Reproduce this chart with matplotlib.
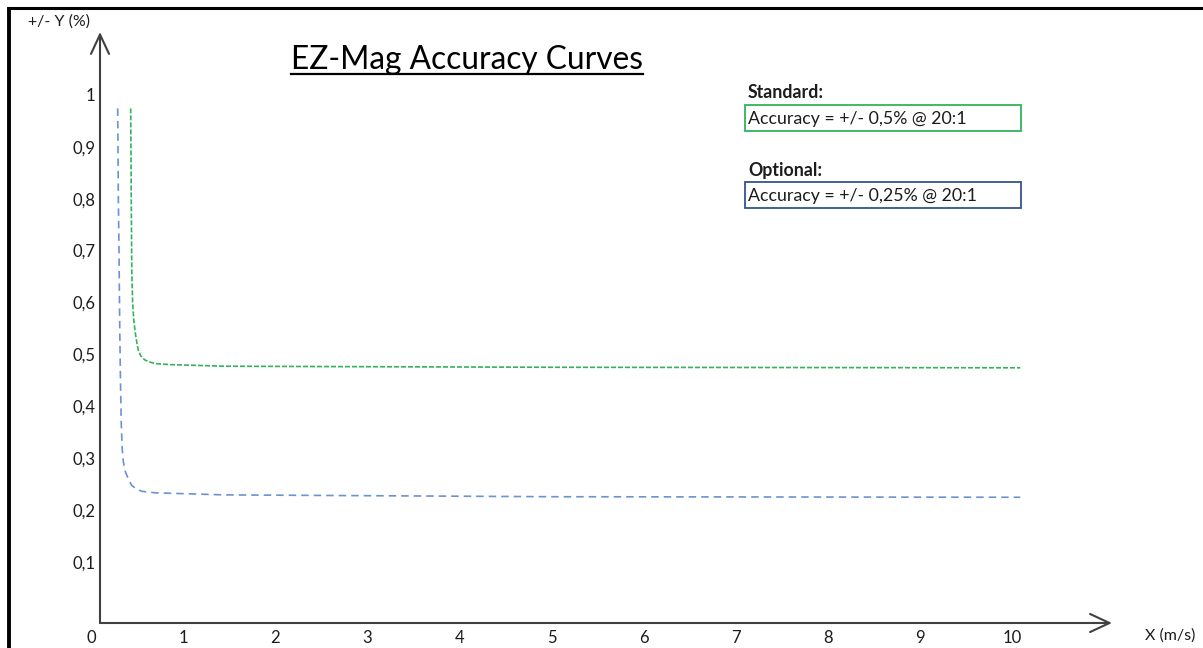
import matplotlib
matplotlib.use("Agg")
import matplotlib.pyplot as plt
from matplotlib.patches import Rectangle
from matplotlib.lines import Line2D

# ───────── data ─────────
std_x = [0.431, 0.437, 0.443, 0.452, 0.465, 0.480, 0.500, 0.514, 0.540, 0.586,
         0.640, 0.700, 0.876, 1.455, 4.98, 10.09]
std_y = [0.974, 0.800, 0.660, 0.600, 0.565, 0.542, 0.520, 0.508, 0.497, 0.489,
         0.485, 0.482, 0.480, 0.477, 0.475, 0.474]

opt_x = [0.290, 0.297, 0.304, 0.312, 0.320, 0.328, 0.338, 0.351, 0.370, 0.405,
         0.440, 0.478, 0.550, 0.695, 1.455, 4.98, 10.09]
opt_y = [0.974, 0.800, 0.700, 0.550, 0.450, 0.370, 0.320, 0.293, 0.275, 0.260,
         0.248, 0.242, 0.236, 0.233, 0.229, 0.2255, 0.2244]

x_ticks = [0, 1, 2, 3, 4, 5, 6, 7, 8, 9, 10]
y_ticks = [0.1, 0.2, 0.3, 0.4, 0.5, 0.6, 0.7, 0.8, 0.9, 1.0]
y_tick_labels = ["0,1", "0,2", "0,3", "0,4", "0,5", "0,6", "0,7", "0,8", "0,9", "1"]

title = "EZ-Mag Accuracy Curves"
std_head, std_text = "Standard:", "Accuracy = +/- 0,5% @ 20:1"
opt_head, opt_text = "Optional:", "Accuracy = +/- 0,25% @ 20:1"

# ───────── styling ─────────
W, H = 1203, 648
FONT = "Lato"
GREEN = "#33b35a"
BLUE = "#6a93d2"
NAVY = "#34548a"
AXIS = "#404040"
TXT = "#1c1c1c"

plt.rcParams["font.family"] = [FONT, "DejaVu Sans"]


def fx(x):
    return x / W


def fy(y):
    return 1 - y / H


fig = plt.figure(figsize=(W / 100, H / 100), dpi=100)
fig.patch.set_facecolor("white")

# axes: left edge at x=0 label, bottom at x-axis line
ax = fig.add_axes([fx(91), fy(623), fx(1112) - fx(91), fy(32) - fy(623)])
ax.set_xlim(0, (1112 - 91) / 92.1)
ax.set_ylim((613.7 - 623) / 518.8, (613.7 - 32) / 518.8)
for s in ax.spines.values():
    s.set_visible(False)
ax.set_facecolor("none")

ax.plot(std_x, std_y, color=GREEN, lw=1.2, linestyle=(0, (3, 1.2)))
ax.plot(opt_x, opt_y, color=BLUE, lw=1.2, linestyle=(0, (4.5, 3)))

ax.set_xticks(x_ticks)
ax.set_xticklabels([str(t) for t in x_ticks])
ax.set_yticks(y_ticks)
ax.set_yticklabels(y_tick_labels)
ax.tick_params(axis="both", length=0, labelsize=12, colors=TXT)
ax.tick_params(axis="x", pad=5)
ax.tick_params(axis="y", pad=-3)

# axis arrows (open heads)
x0 = (100 - 91) / 92.1
ybot, ytop = ax.get_ylim()
xl, xr = ax.get_xlim()
arrow = dict(arrowstyle="->, head_length=14, head_width=6.5", color=AXIS,
             lw=1.5, shrinkA=0, shrinkB=0, mutation_scale=1)
ax.annotate("", xy=(x0, ytop), xytext=(x0, ybot), arrowprops=arrow,
            annotation_clip=False)
ax.annotate("", xy=(xr, ybot), xytext=(x0, ybot), arrowprops=arrow,
            annotation_clip=False)

# axis names
fig.text(fx(28), fy(22), "+/- Y (%)", fontsize=11.5, color=TXT, va="center", ha="left")
fig.text(fx(1145), fy(636), "X (m/s)", fontsize=11.5, color=TXT, va="center", ha="left")

# title with underline
t = fig.text(fx(467), fy(69), title, fontsize=22.8, color="black",
             ha="center", va="baseline")
fig.canvas.draw()
bb = t.get_window_extent()
fig.add_artist(Line2D([bb.x0 / W, bb.x1 / W], [fy(74), fy(74)],
                      transform=fig.transFigure, color="black", lw=1.6))

# note boxes
fig.text(fx(748), fy(93), std_head, fontsize=12.8, fontweight="bold", color=TXT,
         va="center", ha="left")
fig.add_artist(Rectangle((fx(745), fy(131)), fx(1021) - fx(745), fy(105) - fy(131),
                         transform=fig.transFigure, fill=False, ec=GREEN, lw=1.3))
fig.text(fx(748), fy(119), std_text, fontsize=12.8, color=TXT, va="center", ha="left")

fig.text(fx(748), fy(170), opt_head, fontsize=12.8, fontweight="bold", color=TXT,
         va="center", ha="left")
fig.add_artist(Rectangle((fx(745), fy(208)), fx(1021) - fx(745), fy(182) - fy(208),
                         transform=fig.transFigure, fill=False, ec=NAVY, lw=1.3))
fig.text(fx(748), fy(196), opt_text, fontsize=12.8, color=TXT, va="center", ha="left")

# outer frame (left and top edges only)
fig.add_artist(Line2D([fx(8.5), fx(8.5)], [fy(7), fy(648)], transform=fig.transFigure,
                      color="black", lw=2.8, solid_capstyle="butt"))
fig.add_artist(Line2D([fx(7), fx(1203)], [fy(7.5), fy(7.5)], transform=fig.transFigure,
                      color="black", lw=2.2, solid_capstyle="butt"))

fig.savefig("out.png", dpi=100)
